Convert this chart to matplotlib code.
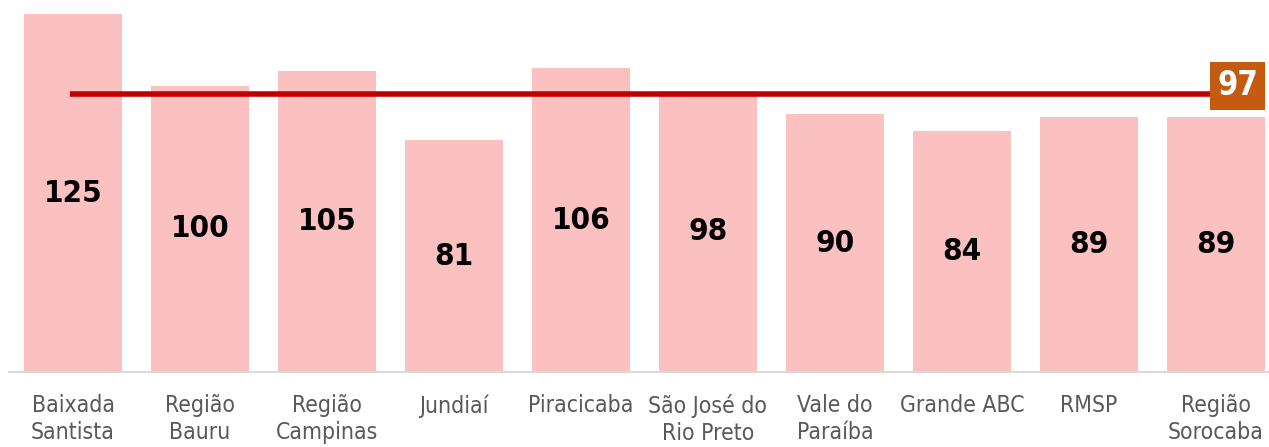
import matplotlib
matplotlib.use("Agg")
import matplotlib.pyplot as plt

categories = ["Baixada\nSantista", "Região\nBauru", "Região\nCampinas", "Jundiaí",
              "Piracicaba", "São José do\nRio Preto", "Vale do\nParaíba",
              "Grande ABC", "RMSP", "Região\nSorocaba"]
values = [125, 100, 105, 81, 106, 98, 90, 84, 89, 89]
average = 97

plt.rcParams['font.family'] = ['DejaVu Sans']

W, H = 1269, 447
fig = plt.figure(figsize=(W / 100, H / 100), dpi=100)
left_px, base_px = 9, 372
ax = fig.add_axes([left_px / W, (H - base_px) / H, 1 - left_px / W, base_px / H])

x = list(range(len(values)))
ax.bar(x, values, width=0.765, color="#FBC0C0", zorder=1)

for xi, v in zip(x, values):
    ax.text(xi, v / 2, str(v), ha="center", va="center", fontsize=22.5,
            fontweight="bold", fontstretch="condensed", color="black", zorder=3)

ax.plot([-0.02, 8.95], [average, average], color="#C00000", lw=4,
        solid_capstyle="butt", zorder=2)
ax.annotate(str(average), xy=(9.17, average), xytext=(0, 6), textcoords="offset points",
            ha="center", va="center", fontsize=23.5, fontweight="bold",
            fontstretch="condensed", color="white", zorder=4,
            bbox=dict(boxstyle="square,pad=0.22", fc="#C55A11", ec="none"))

px_per_unit = (372 - 14) / 125
ax.set_ylim(0, base_px / px_per_unit)
ax.set_xlim((left_px - 73) / 127, (W - 73) / 127)

ax.set_xticks(x)
ax.set_xticklabels(categories, fontsize=16.5, fontstretch="condensed", color="#595959",
                   linespacing=1.22, multialignment="center")
ax.tick_params(axis="x", length=0, pad=16)
ax.set_yticks([])
for s in ["top", "right", "left"]:
    ax.spines[s].set_visible(False)
ax.spines["bottom"].set_color("#D9D9D9")
ax.spines["bottom"].set_linewidth(1.5)

fig.savefig("out.png", dpi=100)
